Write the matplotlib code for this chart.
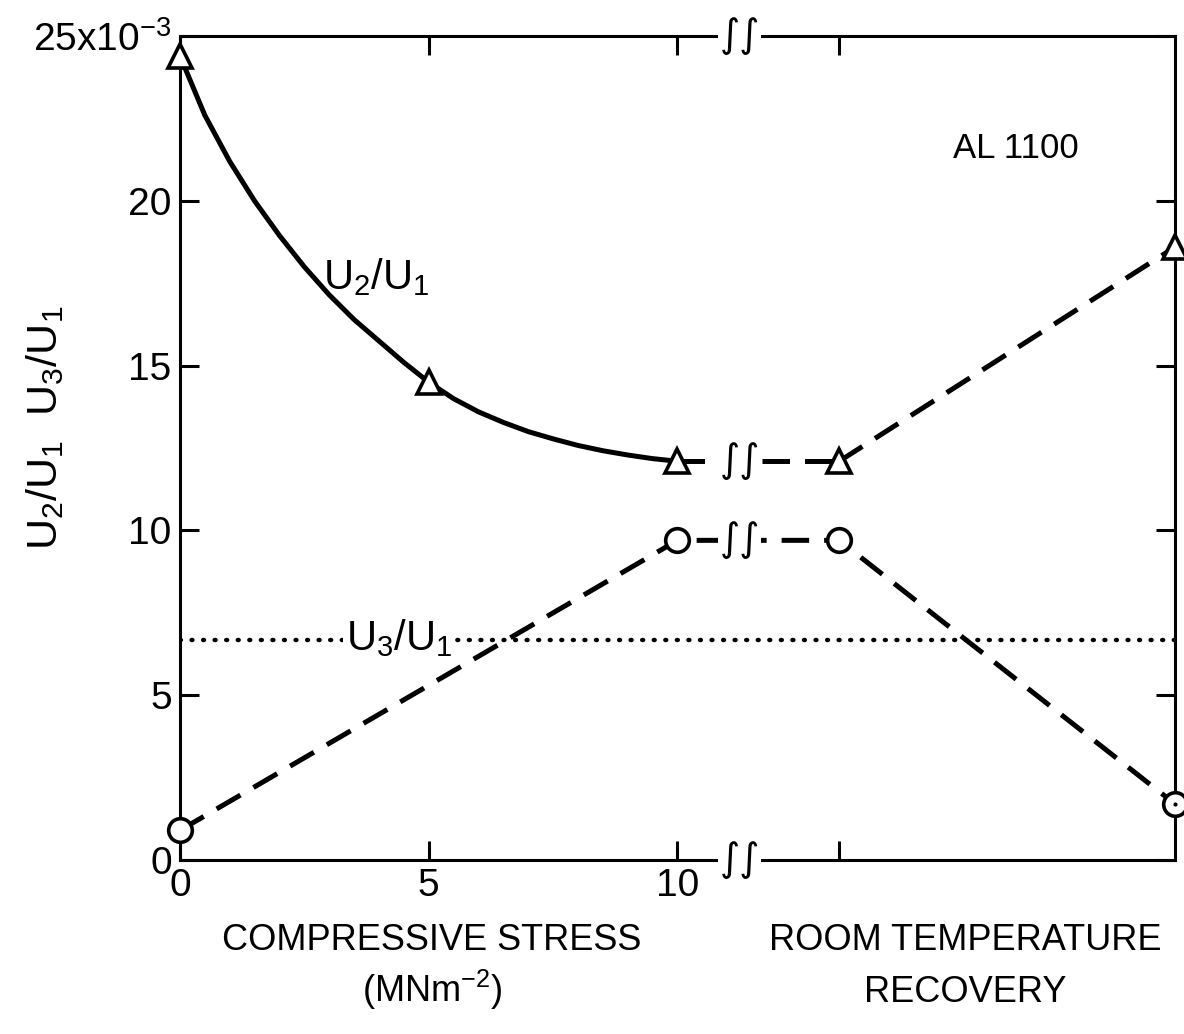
import matplotlib
matplotlib.use('Agg')
import matplotlib.pyplot as plt

FONT = 'Liberation Sans'
plt.rcParams['font.family'] = [FONT, 'DejaVu Sans']
plt.rcParams['mathtext.default'] = 'regular'

# values in units of 1e-3
stress = [0, 5, 10]
u2_stress = [24.4, 14.5, 12.1]
u3_stress = [0.9, 9.7]
u3_stress_x = [0, 10]

# recovery states placed after the axis break
recovery_x = [13.25, 20]
u2_recovery = [12.1, 18.6]
u3_recovery = [9.7, 1.7]

# smooth U2/U1 curve
curve_x = [0, 0.5, 1.0, 1.5, 2.0, 2.5, 3.0, 3.5, 4.0, 4.5, 5.0, 5.5, 6.0, 6.5, 7.0, 7.5,
           8.0, 8.5, 9.0, 9.5, 10.0]
curve_y = [24.4, 22.6, 21.2, 20.0, 18.95, 18.0, 17.15, 16.4, 15.75, 15.1, 14.5, 14.0, 13.6,
           13.28, 13.0, 12.78, 12.58, 12.42, 12.29, 12.18, 12.1]

u3_level = 6.67

x_break = 11.25

fig = plt.figure(figsize=(11.84, 10.34), dpi=100)
ax = fig.add_axes([0.152, 0.1683, 0.8404, 0.7967])
ax.set_xlim(0, 20)
ax.set_ylim(0, 25)

lw = 3.6
dash = (0, (5.5, 3))
mk = dict(markersize=17, markerfacecolor='white', markeredgecolor='black', markeredgewidth=2.6)

# U2/U1
ax.plot(curve_x, curve_y, color='black', lw=lw, solid_capstyle='round', solid_joinstyle='round',
        zorder=3)
ax.plot([stress[-1], recovery_x[0]], [u2_stress[-1], u2_recovery[0]], color='black', lw=lw,
        linestyle=dash, zorder=3)
ax.plot(recovery_x, u2_recovery, color='black', lw=lw, linestyle=dash, zorder=3)
ax.plot(stress + recovery_x, u2_stress + u2_recovery, linestyle='none', marker='^', zorder=5,
        clip_on=False, **mk)

# U3/U1
ax.plot(u3_stress_x + recovery_x, u3_stress + u3_recovery, color='black', lw=lw, linestyle=dash, zorder=3)
ax.plot(u3_stress_x + recovery_x, u3_stress + u3_recovery, linestyle='none', marker='o', zorder=5,
        clip_on=False, **mk)
ax.plot([20], [u3_recovery[-1]], linestyle='none', marker='.', color='black', markersize=4, zorder=6,
        clip_on=False)

# reference level
ax.axhline(u3_level, color='black', lw=3.2, linestyle=(0, (0.2, 2.4)), dash_capstyle='round', zorder=2)
ax.text(4.4, u3_level + 0.05, 'U$_3$/U$_1$', fontsize=30, ha='center', va='center',
        bbox=dict(facecolor='white', edgecolor='none', pad=2), zorder=4)
ax.text(3.95, 17.7, 'U$_2$/U$_1$', fontsize=30, ha='center', va='center')
ax.text(16.8, 21.6, 'AL 1100', fontsize=25, ha='center', va='center')

# axis breaks
for yb in [0, 1]:
    ax.text(x_break, yb, '\u222b\u222b', transform=ax.get_xaxis_transform(), fontsize=28,
            ha='center', va='center', family='DejaVu Sans',
            bbox=dict(facecolor='white', edgecolor='none', pad=1), zorder=10, clip_on=False)
for yb in [u2_recovery[0], u3_recovery[0]]:
    ax.text(x_break, yb, '\u222b\u222b', fontsize=28, ha='center', va='center',
            family='DejaVu Sans', bbox=dict(facecolor='white', edgecolor='none', pad=1), zorder=10)

for s in ax.spines.values():
    s.set_linewidth(2.2)
ax.tick_params(direction='in', length=14, width=2.2, labelsize=28, top=True, right=True)
ax.tick_params(axis='y', pad=6)
ax.tick_params(axis='x', pad=6)
ax.set_xticks([0, 5, 10, 13.25])
ax.set_xticklabels(['0', '5', '10', ''])
ax.set_yticks([0, 5, 10, 15, 20, 25])
ax.set_yticklabels(['0', '5', '10', '15', '20', '25x10$^{-3}$'])

fig.text(45 / 1184, 1 - 428 / 1034, 'U$_2$/U$_1$  U$_3$/U$_1$', fontsize=31, rotation=90,
         ha='center', va='center')

fig.text(432 / 1184, 1 - 940 / 1034, 'COMPRESSIVE STRESS', fontsize=26, ha='center', va='center')
fig.text(432 / 1184, 1 - 990 / 1034, '(MNm$^{-2}$)', fontsize=26, ha='center', va='center')
fig.text(965 / 1184, 1 - 940 / 1034, 'ROOM TEMPERATURE', fontsize=26, ha='center', va='center')
fig.text(965 / 1184, 1 - 993 / 1034, 'RECOVERY', fontsize=26, ha='center', va='center')

fig.savefig('out.png', dpi=100)
